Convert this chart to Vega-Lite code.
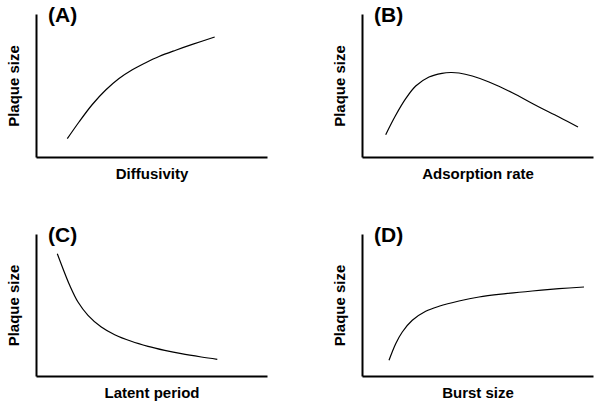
{
  "$schema": "https://vega.github.io/schema/vega-lite/v6.json",
  "background": "white",
  "padding": {"left": 6, "top": 5, "right": 5, "bottom": 5},
  "bounds": "flush",
  "spacing": {"column": 95, "row": 77},
  "columns": 2,
  "datasets": {
    "A": [{"x":31.3,"y":18.3},{"x":43,"y":35},{"x":56.3,"y":52.5},{"x":69.7,"y":67},{"x":83,"y":78.5},{"x":96.3,"y":87.3},{"x":109.7,"y":94.3},{"x":123,"y":100.5},{"x":139.7,"y":106.8},{"x":156.3,"y":112.6},{"x":178.7,"y":120}],
    "B": [{"x":23.7,"y":22.3},{"x":33.7,"y":41.7},{"x":43.7,"y":58.3},{"x":53.7,"y":71},{"x":67,"y":80},{"x":80,"y":83.7},{"x":88.7,"y":84.5},{"x":97,"y":84},{"x":110.3,"y":81},{"x":127,"y":75},{"x":150.3,"y":64.3},{"x":173.7,"y":51.7},{"x":197,"y":40},{"x":216,"y":30}],
    "C": [{"x":21.3,"y":122.3},{"x":27,"y":107.3},{"x":33.7,"y":90.7},{"x":42,"y":74},{"x":52,"y":60.7},{"x":65.3,"y":49},{"x":78.7,"y":41.3},{"x":95.3,"y":34.7},{"x":112,"y":29.7},{"x":128.7,"y":25.7},{"x":145.3,"y":22.3},{"x":165.3,"y":19},{"x":181.3,"y":16.7}],
    "D": [{"x":27,"y":15.7},{"x":33.7,"y":32.3},{"x":40.3,"y":44},{"x":50.3,"y":55.7},{"x":63.7,"y":64.7},{"x":77,"y":69.7},{"x":97,"y":75},{"x":117,"y":79},{"x":143.7,"y":82.3},{"x":170.3,"y":85},{"x":197,"y":87.3},{"x":222,"y":89}]
  },
  "concat": [
    {
      "title": {"text": "(A)"},
      "width": 231, "height": 143,
      "data": {"name": "A"},
      "mark": {"type": "line", "color": "black", "strokeWidth": 1.2, "interpolate": "catmull-rom"},
      "encoding": {
        "x": {"field": "x", "type": "quantitative", "scale": {"domain": [0, 231], "nice": false, "zero": false}, "axis": {"title": "Diffusivity"}},
        "y": {"field": "y", "type": "quantitative", "scale": {"domain": [0, 143], "nice": false, "zero": false}, "axis": {"title": "Plaque size"}}
      }
    },
    {
      "title": {"text": "(B)"},
      "width": 231, "height": 143,
      "data": {"name": "B"},
      "mark": {"type": "line", "color": "black", "strokeWidth": 1.2, "interpolate": "catmull-rom"},
      "encoding": {
        "x": {"field": "x", "type": "quantitative", "scale": {"domain": [0, 231], "nice": false, "zero": false}, "axis": {"title": "Adsorption rate"}},
        "y": {"field": "y", "type": "quantitative", "scale": {"domain": [0, 143], "nice": false, "zero": false}, "axis": {"title": "Plaque size"}}
      }
    },
    {
      "title": {"text": "(C)"},
      "width": 231, "height": 142,
      "data": {"name": "C"},
      "mark": {"type": "line", "color": "black", "strokeWidth": 1.2, "interpolate": "catmull-rom"},
      "encoding": {
        "x": {"field": "x", "type": "quantitative", "scale": {"domain": [0, 231], "nice": false, "zero": false}, "axis": {"title": "Latent period"}},
        "y": {"field": "y", "type": "quantitative", "scale": {"domain": [0, 142], "nice": false, "zero": false}, "axis": {"title": "Plaque size"}}
      }
    },
    {
      "title": {"text": "(D)"},
      "width": 231, "height": 142,
      "data": {"name": "D"},
      "mark": {"type": "line", "color": "black", "strokeWidth": 1.2, "interpolate": "catmull-rom"},
      "encoding": {
        "x": {"field": "x", "type": "quantitative", "scale": {"domain": [0, 231], "nice": false, "zero": false}, "axis": {"title": "Burst size"}},
        "y": {"field": "y", "type": "quantitative", "scale": {"domain": [0, 142], "nice": false, "zero": false}, "axis": {"title": "Plaque size"}}
      }
    }
  ],
  "config": {
    "view": {"stroke": null},
    "axis": {
      "grid": false, "ticks": false, "labels": false,
      "domainColor": "black", "domainWidth": 2,
      "titleFont": "Liberation Sans", "titleFontSize": 15, "titleFontWeight": "bold", "titleColor": "black"
    },
    "axisX": {"titlePadding": 9},
    "axisY": {"titlePadding": 15},
    "title": {"font": "Liberation Sans", "fontSize": 21, "fontWeight": "bold", "color": "black", "anchor": "start", "frame": "group", "dx": 12, "dy": 16, "offset": 0}
  }
}
